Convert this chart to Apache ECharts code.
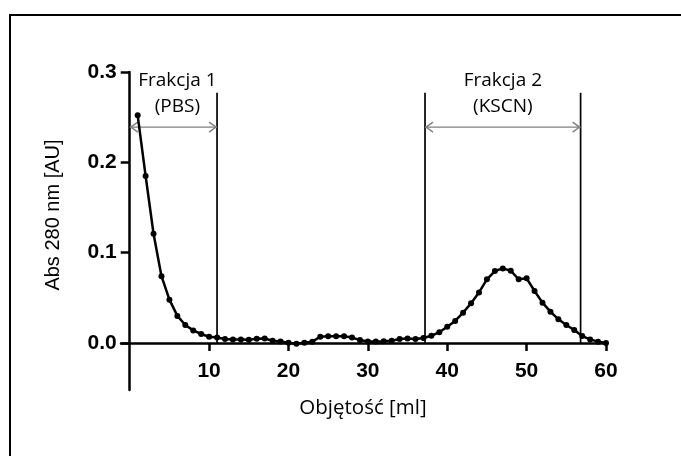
<!DOCTYPE html>
<html>
<head>
<meta charset="utf-8">
<script src="https://cdn.jsdelivr.net/npm/echarts@6/dist/echarts.min.js"></script>
<style>
  html, body { margin: 0; padding: 0; background: #fff; }
  #chart { width: 681px; height: 456px; }
</style>
</head>
<body>
<div id="chart"></div>
<script>
// Elution volume (ml) and absorbance at 280 nm
const volume = [1, 2, 3, 4, 5, 6, 7, 8, 9, 10,
  11, 12, 13, 14, 15, 16, 17, 18, 19, 20,
  21, 22, 23, 24, 25, 26, 27, 28, 29, 30,
  31, 32, 33, 34, 35, 36, 37, 38, 39, 40,
  41, 42, 43, 44, 45, 46, 47, 48, 49, 50,
  51, 52, 53, 54, 55, 56, 57, 58, 59, 60];
const absorbance = [0.252, 0.185, 0.121, 0.074, 0.048, 0.030, 0.020, 0.014, 0.010, 0.007,
  0.006, 0.0045, 0.004, 0.004, 0.0037, 0.0048, 0.005, 0.0026, 0.0018, 0.0004,
  -0.0007, 0.0003, 0.0015, 0.007, 0.0074, 0.0074, 0.0074, 0.006, 0.0033, 0.0018,
  0.0018, 0.002, 0.0026, 0.0044, 0.005, 0.0045, 0.0055, 0.008, 0.012, 0.018,
  0.0244, 0.0336, 0.044, 0.056, 0.0705, 0.0797, 0.0826, 0.080, 0.0705, 0.0716,
  0.0576, 0.0447, 0.0347, 0.0262, 0.0199, 0.0144, 0.0077, 0.004, 0.0015, 0.0];

// Tick positions
const xTicks = [10, 20, 30, 40, 50, 60];
const yTicks = [0, 0.1, 0.2, 0.3];

// Fraction boundaries, arrows and labels
const dividerX = [11, 37.2, 56.8];
const dividerTop = 0.277;
const arrowStart = [0, 37.2];
const arrowEnd = [11, 56.8];
const arrowLevel = 0.239;
const fractionTitles = ['Frakcja 1', 'Frakcja 2'];
const fractionEluents = ['(PBS)', '(KSCN)'];
const fractionCenter = [6, 47];
const titleLevel = 0.291;
const eluentLevel = 0.262;

const chart = echarts.init(document.getElementById('chart'));

// Plot area and value ranges; the axes cross at (0, 0) inside the area
const grid = { left: 121, right: 75, top: 72, bottom: 66 };
const xRange = [-1.1, 60];
const yRange = [-0.052, 0.3];
const plotW = 681 - grid.left - grid.right;
const plotH = 456 - grid.top - grid.bottom;
const xAxisShift = -plotH * (0 - yRange[0]) / (yRange[1] - yRange[0]);
const yAxisShift = -plotW * (0 - xRange[0]) / (xRange[1] - xRange[0]);

const sansFont = '"Open Sans", "Noto Sans", sans-serif';
const tickFont = { fontFamily: '"Liberation Sans", Arial, sans-serif', fontWeight: 'bold', fontSize: 21, color: '#000' };

const curve = volume.map((v, i) => [v, absorbance[i]]);

const option = {
  animation: false,
  backgroundColor: '#fff',
  grid: grid,
  xAxis: {
    type: 'value',
    min: xRange[0],
    max: xRange[1],
    offset: xAxisShift,
    axisLine: { onZero: false, lineStyle: { color: '#000', width: 2.5 } },
    axisTick: { customValues: xTicks, length: 8, lineStyle: { color: '#000', width: 2.5 } },
    axisLabel: Object.assign({ customValues: xTicks, margin: 18 }, tickFont),
    splitLine: { show: false }
  },
  yAxis: {
    type: 'value',
    min: yRange[0],
    max: yRange[1],
    offset: yAxisShift,
    axisLine: { show: true, onZero: false, lineStyle: { color: '#000', width: 2.5 } },
    axisTick: { show: true, customValues: yTicks, length: 9, lineStyle: { color: '#000', width: 2.5 } },
    axisLabel: Object.assign({ customValues: yTicks, margin: 13, formatter: v => v.toFixed(1) }, tickFont),
    splitLine: { show: false }
  },
  graphic: [
    { type: 'rect', shape: { x: 10, y: 15, width: 700, height: 500 },
      style: { fill: 'none', stroke: '#000', lineWidth: 2 }, silent: true, z: -1 },
    { type: 'text', x: 53, y: 215, rotation: Math.PI / 2,
      style: { text: 'Abs 280 nm [AU]', align: 'center', verticalAlign: 'middle',
        font: '20px "Liberation Sans", Arial, sans-serif', fill: '#000' } },
    { type: 'text', x: 363, y: 408,
      style: { text: 'Objętość [ml]', align: 'center', verticalAlign: 'middle',
        font: '20.5px ' + sansFont, fill: '#000' } }
  ],
  series: [
    {
      // vertical boundaries of the collected fractions
      type: 'custom',
      clip: false,
      silent: true,
      data: dividerX.map(x => [x, dividerTop]),
      renderItem: (params, api) => {
        const bottom = api.coord([api.value(0), 0]);
        const top = api.coord([api.value(0), api.value(1)]);
        return { type: 'line', shape: { x1: top[0], y1: top[1], x2: bottom[0], y2: bottom[1] },
          style: { stroke: '#000', lineWidth: 1.7 } };
      },
      z: 3
    },
    {
      // double-headed arrows spanning each fraction
      type: 'custom',
      clip: false,
      silent: true,
      data: arrowStart.map((s, i) => [s, arrowEnd[i], arrowLevel]),
      renderItem: (params, api) => {
        const a = api.coord([api.value(0), api.value(2)]);
        const b = api.coord([api.value(1), api.value(2)]);
        const st = { stroke: '#7f7f7f', lineWidth: 1.4, fill: 'none' };
        return { type: 'group', children: [
          { type: 'line', shape: { x1: a[0], y1: a[1], x2: b[0], y2: b[1] }, style: st },
          { type: 'polyline', shape: { points: [[a[0] + 8, a[1] - 5], [a[0] + 1, a[1]], [a[0] + 8, a[1] + 5]] }, style: st },
          { type: 'polyline', shape: { points: [[b[0] - 8, b[1] - 5], [b[0] - 1, b[1]], [b[0] - 8, b[1] + 5]] }, style: st }
        ] };
      },
      z: 3
    },
    {
      // fraction titles
      type: 'custom',
      clip: false,
      silent: true,
      data: fractionCenter.map((x, i) => [x, titleLevel, eluentLevel, i]),
      renderItem: (params, api) => {
        const i = api.value(3);
        const p1 = api.coord([api.value(0), api.value(1)]);
        const p2 = api.coord([api.value(0), api.value(2)]);
        const font = '19px ' + sansFont;
        return { type: 'group', children: [
          { type: 'text', x: p1[0], y: p1[1], style: { text: fractionTitles[i], font: font, fill: '#000', align: 'center', verticalAlign: 'middle' } },
          { type: 'text', x: p2[0], y: p2[1], style: { text: fractionEluents[i], font: font, fill: '#000', align: 'center', verticalAlign: 'middle' } }
        ] };
      },
      z: 3
    },
    {
      name: 'Abs 280 nm',
      type: 'line',
      data: curve,
      symbol: 'circle',
      symbolSize: 6,
      showSymbol: true,
      lineStyle: { color: '#000', width: 2.5 },
      itemStyle: { color: '#000' },
      clip: false,
      z: 5
    }
  ]
};

chart.setOption(option);
</script>
</body>
</html>
